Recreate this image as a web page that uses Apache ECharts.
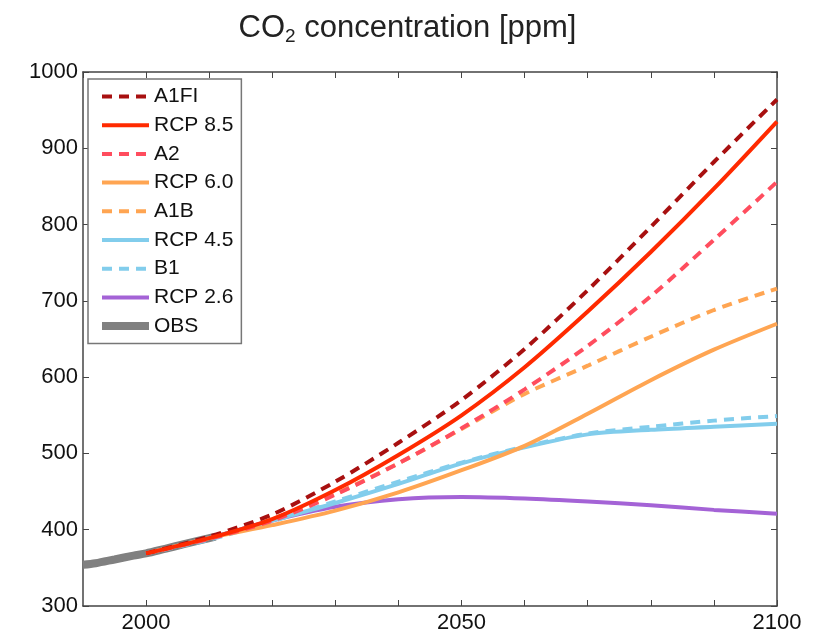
<!DOCTYPE html>
<html>
<head>
<meta charset="utf-8">
<script src="https://cdn.jsdelivr.net/npm/echarts@6/dist/echarts.min.js"></script>
<style>
  html, body { margin: 0; padding: 0; background: #fff; }
  #chart { width: 815px; height: 634px; }
</style>
</head>
<body>
<div id="chart"></div>
<script>
'use strict'
// scenario years (every 10 years)
var years = [2000, 2010, 2020, 2030, 2040, 2050, 2060, 2070, 2080, 2090, 2100]
var a1fi = [369, 391, 420, 463, 514, 570, 637, 714, 797, 882, 964]
var rcp85 = [369, 389, 414, 452, 498, 550, 613, 686, 764, 847, 935]
var a2 = [369, 388, 412, 446, 487, 533, 584, 641, 706, 780, 856]
var rcp60 = [369, 389, 406, 425, 449, 478, 510, 552, 596, 636, 670]
var a1b = [369, 389, 414, 447, 487, 532, 578, 615, 653, 688, 716]
var rcp45 = [369, 389, 412, 435, 460, 487, 508, 525, 531, 535, 539]
var b1 = [369, 387, 411, 437, 463, 488, 509, 526, 535, 543, 549]
var rcp26 = [369, 389, 412, 430, 440, 443, 441, 437, 432, 426, 421]
// observations
var obsYears = [1990, 1992, 1995, 1998, 2000, 2003, 2006, 2009, 2011]
var obsValues = [354, 356, 361, 366, 369, 375, 381, 387, 391]
var xLabels = [2000, 2050, 2100]

function pairs(xs, ys) {
  return xs.map(function(x, i) { return [x, ys[i]] })
}

var chart = echarts.init(document.getElementById('chart'))

function line(name, data, color, dashed, width, z) {
  return {
    name: name,
    type: 'line',
    data: data,
    symbol: 'none',
    smooth: 0.3,
    z: z,
    lineStyle: {
      color: color,
      width: width,
      type: dashed ? [10, 7] : 'solid'
    },
    itemStyle: { color: color }
  }
}

var font = 'Arial, Liberation Sans, sans-serif'
var axisTxt = { color: '#111', fontSize: 22, fontFamily: font }

var option = {
  animation: false,
  title: {
    text: 'CO{sub|2} concentration [ppm]',
    left: 'center',
    top: 6,
    textStyle: {
      color: '#222',
      fontSize: 31,
      fontWeight: 'normal',
      fontFamily: font,
      rich: {
        sub: {
          fontSize: 19,
          color: '#222',
          fontFamily: font,
          verticalAlign: 'bottom',
          padding: [16, 0, 0, 0]
        }
      }
    }
  },
  grid: { left: 83, right: 38, top: 72, bottom: 28 },
  legend: {
    data: ['A1FI', 'RCP 8.5', 'A2', 'RCP 6.0', 'A1B', 'RCP 4.5', 'B1', 'RCP 2.6',
      { name: 'OBS', lineStyle: { width: 8 } }],
    orient: 'vertical',
    left: 88,
    top: 79,
    itemWidth: 47,
    itemHeight: 14,
    itemGap: 7.7,
    padding: [7, 8, 7, 10],
    backgroundColor: '#fff',
    borderColor: '#777',
    borderWidth: 1.5,
    itemStyle: { opacity: 0 },
    lineStyle: { width: 4 },
    textStyle: { color: '#111', fontSize: 21, fontFamily: font }
  },
  xAxis: [
    {
      type: 'value',
      min: 1990,
      max: 2100,
      interval: 10,
      axisLine: { lineStyle: { color: '#444', width: 1.5 } },
      axisTick: { inside: true, length: 6, lineStyle: { color: '#444' } },
      splitLine: { show: false },
      axisLabel: {
        margin: 6,
        showMinLabel: false,
        formatter: function(v) { return xLabels.indexOf(v) >= 0 ? String(v) : '' },
        color: axisTxt.color,
        fontSize: axisTxt.fontSize,
        fontFamily: axisTxt.fontFamily
      }
    },
    {
      type: 'value',
      position: 'top',
      min: 1990,
      max: 2100,
      interval: 10,
      axisLine: { show: true, lineStyle: { color: '#444', width: 1.5 } },
      axisTick: { inside: true, length: 6, lineStyle: { color: '#444' } },
      splitLine: { show: false },
      axisLabel: { show: false }
    }
  ],
  yAxis: [
    {
      type: 'value',
      min: 300,
      max: 1000,
      interval: 100,
      axisLine: { show: true, lineStyle: { color: '#444', width: 1.5 } },
      axisTick: { show: true, inside: true, length: 6, lineStyle: { color: '#444' } },
      splitLine: { show: false },
      axisLabel: {
        margin: 5,
        formatter: function(v) { return String(v) },
        color: axisTxt.color,
        fontSize: axisTxt.fontSize,
        fontFamily: axisTxt.fontFamily
      }
    },
    {
      type: 'value',
      position: 'right',
      min: 300,
      max: 1000,
      interval: 100,
      axisLine: { show: true, lineStyle: { color: '#444', width: 1.5 } },
      axisTick: { show: true, inside: true, length: 6, lineStyle: { color: '#444' } },
      splitLine: { show: false },
      axisLabel: { show: false }
    }
  ],
  series: [
    line('OBS', pairs(obsYears, obsValues), '#808080', false, 8, 2),
    line('RCP 2.6', pairs(years, rcp26), '#a463d6', false, 4, 3),
    line('RCP 4.5', pairs(years, rcp45), '#82cdec', false, 4, 3),
    line('B1', pairs(years, b1), '#82cdec', true, 4, 4),
    line('RCP 6.0', pairs(years, rcp60), '#ffa552', false, 4, 4),
    line('A1B', pairs(years, a1b), '#ffa552', true, 4, 4),
    line('A2', pairs(years, a2), '#ff4d5e', true, 4, 5),
    line('A1FI', pairs(years, a1fi), '#a81010', true, 4, 5),
    line('RCP 8.5', pairs(years, rcp85), '#ff2a00', false, 4, 6)
  ]
}

chart.setOption(option)
</script>
</body>
</html>
